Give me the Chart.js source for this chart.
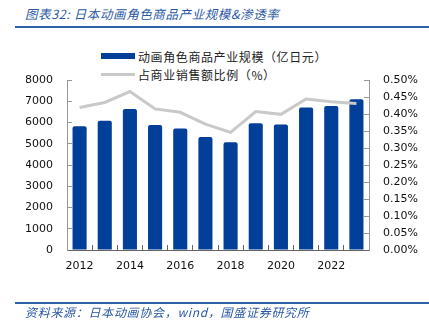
<!DOCTYPE html>
<html>
<head>
<meta charset="utf-8">
<script src="https://cdn.jsdelivr.net/npm/chart.js@4"></script>
<style>
  body { margin: 0; background: #fff; }
  #wrap { position: relative; width: 429px; height: 331px; overflow: hidden; font-family: "Noto Sans CJK SC", sans-serif; }
  #title { position: absolute; left: 25px; top: 4px; font-size: 12.5px; font-style: italic; color: #2a58a4; letter-spacing: 0.6px; white-space: nowrap; }
  #topline { position: absolute; left: 15px; right: 0; top: 26px; height: 2px; background: #2f5fa8; }
  #botline { position: absolute; left: 15px; right: 0; top: 302px; height: 1.5px; background: #2f5fa8; }
  #source { position: absolute; left: 25px; top: 303px; font-size: 12px; font-style: italic; color: #2a58a4; letter-spacing: 0.7px; white-space: nowrap; }
  #legend { position: absolute; left: 101px; top: 47px; font-size: 12px; color: #222; letter-spacing: 0.6px; }
  .item { display: flex; align-items: center; height: 18px; white-space: nowrap; }
  .sw { width: 34px; margin-right: 3px; }
  canvas { position: absolute; left: 0; top: 0; }
</style>
</head>
<body>
<div id="wrap">
  <div id="title">图表32:&nbsp;日本动画角色商品产业规模&amp;渗透率</div>
  <div id="topline"></div>
  <div id="legend"></div>
  <canvas id="chart" width="429" height="331"></canvas>
  <div id="botline"></div>
  <div id="source">资料来源：日本动画协会，wind，国盛证券研究所</div>
</div>
<script>
const years = ['2012','2013','2014','2015','2016','2017','2018','2019','2020','2021','2022','2023'];
const scale = [5820, 6080, 6630, 5880, 5720, 5320, 5070, 5960, 5910, 6710, 6780, 7090];
const share = [0.419, 0.434, 0.466, 0.415, 0.405, 0.370, 0.346, 0.407, 0.399, 0.444, 0.436, 0.431];
const leftTicks = [0, 8000, 1000];
const rightTicks = [0, 0.5, 0.05];
const names = ['动画角色商品产业规模（亿日元）', '占商业销售额比例（%）'];
const blue = '#023f98', grey = '#c9c9c9';

const tickFont = { family: 'DejaVu Sans', size: 11 };

// legend as html, left aligned rows like the original
const lg = document.getElementById('legend');
lg.innerHTML =
  `<div class="item"><span class="sw" style="height:6px;background:${blue}"></span>${names[0]}</div>` +
  `<div class="item"><span class="sw" style="height:3px;background:${grey}"></span>${names[1]}</div>`;

const ctx = document.getElementById('chart').getContext('2d');
new Chart(ctx, {
  type: 'bar',
  data: {
    labels: years,
    datasets: [
      { label: names[0], data: scale, backgroundColor: blue, yAxisID: 'y', order: 2,
        barPercentage: 0.56, categoryPercentage: 1, borderRadius: 2 },
      { type: 'line', label: names[1], data: share, borderColor: grey, borderWidth: 3,
        pointRadius: 0, tension: 0, yAxisID: 'y1', order: 1 }
    ]
  },
  options: {
    responsive: false,
    animation: false,
    layout: { padding: { left: 26, right: 10, top: 80, bottom: 51 } },
    plugins: { legend: { display: false }, tooltip: { enabled: false } },
    scales: {
      x: {
        grid: { drawOnChartArea: false, color: '#666', tickLength: -5, offset: true },
        border: { color: '#666' },
        ticks: { font: tickFont, color: '#111', padding: 15, autoSkip: false, maxRotation: 0,
                 callback: (v, i) => i % 2 === 0 ? years[i] : '' },
        afterFit: s => { s.height = 30; }
      },
      y: {
        position: 'left', min: leftTicks[0], max: leftTicks[1],
        grid: { drawOnChartArea: false, color: '#999', tickLength: -5 },
        border: { color: '#999' },
        ticks: { stepSize: leftTicks[2], font: tickFont, color: '#111', padding: 19,
                 callback: v => String(v) },
        afterFit: s => { s.width = 41; }
      },
      y1: {
        position: 'right', min: rightTicks[0], max: rightTicks[1],
        grid: { drawOnChartArea: false, color: '#999', tickLength: -5 },
        border: { color: '#999' },
        ticks: { stepSize: rightTicks[2], font: tickFont, color: '#111', padding: 19,
                 callback: v => v.toFixed(2) + '%' },
        afterFit: s => { s.width = 50; }
      }
    }
  }
});
</script>
</body>
</html>
